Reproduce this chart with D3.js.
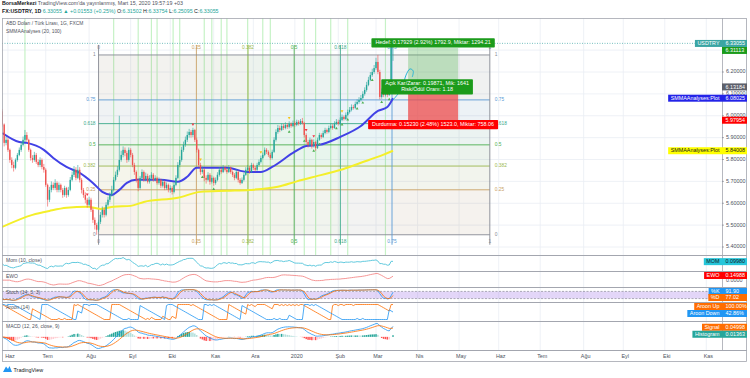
<!DOCTYPE html>
<html><head><meta charset="utf-8">
<script src="https://cdn.jsdelivr.net/npm/d3@7"></script>
<style>
body{margin:0;background:#fff;}
svg{display:block;font-family:"Liberation Sans",Arial,sans-serif;}
</style></head><body>
<svg id="c" width="750" height="378"></svg>
<script>
// ---------------- DATA ----------------
const startDate = "2019-05-29";           // first daily bar (weekdays only)
const firstOpen = 6.020;
const closes = [5.960,5.876,5.890,5.844,5.798,5.775,5.762,5.798,5.821,5.844,
 5.867,5.890,5.912,5.890,5.844,5.807,5.798,5.821,5.789,5.775,
 5.798,5.766,5.753,5.684,5.616,5.661,5.684,5.670,5.693,5.661,
 5.684,5.661,5.638,5.670,5.638,5.661,5.707,5.730,5.753,5.716,
 5.753,5.707,5.661,5.638,5.616,5.593,5.616,5.570,5.524,5.501,
 5.479,5.515,5.547,5.570,5.547,5.593,5.616,5.638,5.661,5.707,
 5.730,5.753,5.798,5.821,5.844,5.830,5.798,5.844,5.821,5.775,
 5.743,5.707,5.670,5.716,5.743,5.707,5.725,5.698,5.716,5.730,
 5.707,5.716,5.693,5.707,5.680,5.698,5.670,5.684,5.661,5.670,
 5.652,5.684,5.716,5.775,5.798,5.844,5.867,5.890,5.912,5.926,
 5.912,5.935,5.890,5.844,5.775,5.743,5.753,5.716,5.707,5.730,
 5.698,5.716,5.693,5.707,5.730,5.753,5.743,5.762,5.753,5.743,
 5.762,5.743,5.730,5.716,5.743,5.707,5.693,5.707,5.730,5.753,
 5.762,5.743,5.775,5.762,5.753,5.775,5.789,5.807,5.821,5.844,
 5.835,5.821,5.807,5.835,5.890,5.926,5.944,5.935,5.953,5.944,
 5.958,5.949,5.963,5.953,5.967,5.958,5.972,5.963,5.976,5.967,
 5.912,5.880,5.867,5.890,5.862,5.880,5.853,5.890,5.912,5.903,
 5.921,5.935,5.926,5.944,5.953,5.944,5.963,5.972,5.963,5.981,
 5.995,5.985,6.004,6.017,6.027,6.040,6.036,6.054,6.063,6.072,
 6.081,6.100,6.118,6.141,6.164,6.186,6.200,6.218,6.246,6.200,
 6.086,6.109,6.095,6.118,6.095,6.127,6.314,6.331];
const highs = [6.030,5.965,5.905,5.900,5.850,5.810,5.790,5.805,5.830,5.855,
 5.880,5.905,5.935,5.925,5.895,5.850,5.820,5.835,5.830,5.800,
 5.810,5.805,5.780,5.760,5.690,5.675,5.700,5.695,5.710,5.700,
 5.695,5.690,5.670,5.680,5.675,5.675,5.720,5.745,5.770,5.765,
 5.775,5.765,5.715,5.670,5.650,5.625,5.630,5.625,5.580,5.535,
 5.510,5.525,5.560,5.585,5.580,5.605,5.630,5.650,5.680,5.720,
 5.745,5.770,6.000,5.840,5.860,5.855,5.840,5.855,5.852,5.830,
 5.785,5.750,5.715,5.725,5.755,5.750,5.740,5.735,5.728,5.742,
 5.738,5.728,5.722,5.718,5.712,5.710,5.705,5.695,5.690,5.682,
 5.678,5.695,5.728,5.788,5.815,5.858,5.882,5.905,5.928,5.940,
 5.935,5.945,5.940,5.900,5.850,5.785,5.768,5.760,5.728,5.742,
 5.738,5.728,5.722,5.718,5.742,5.765,5.762,5.775,5.770,5.760,
 5.775,5.768,5.750,5.738,5.755,5.750,5.715,5.718,5.740,5.765,
 5.775,5.770,5.785,5.782,5.770,5.785,5.800,5.818,5.832,5.855,
 5.852,5.842,5.830,5.845,5.902,5.938,5.958,5.955,5.965,5.962,
 5.970,5.966,5.975,5.970,5.978,5.975,5.982,5.980,5.985,5.990,
 5.972,5.920,5.890,5.900,5.895,5.892,5.885,5.900,5.922,5.920,
 5.932,5.945,5.942,5.955,5.965,5.962,5.975,5.985,5.982,5.992,
 6.006,6.002,6.015,6.028,6.040,6.052,6.050,6.065,6.075,6.085,
 6.095,6.112,6.130,6.155,6.178,6.200,6.215,6.232,6.265,6.278,
 6.210,6.125,6.120,6.130,6.135,6.140,6.320,6.338];
const lows = [5.950,5.860,5.865,5.835,5.785,5.760,5.745,5.755,5.790,5.815,
 5.835,5.860,5.880,5.880,5.835,5.795,5.785,5.790,5.780,5.765,
 5.765,5.755,5.740,5.675,5.585,5.605,5.650,5.660,5.660,5.650,
 5.650,5.650,5.625,5.630,5.625,5.630,5.655,5.700,5.720,5.705,
 5.710,5.695,5.645,5.625,5.600,5.580,5.585,5.560,5.510,5.480,
 5.456,5.470,5.505,5.535,5.535,5.540,5.585,5.605,5.630,5.655,
 5.700,5.720,5.745,5.790,5.810,5.815,5.785,5.790,5.810,5.765,
 5.730,5.695,5.655,5.662,5.705,5.698,5.700,5.690,5.690,5.708,
 5.698,5.700,5.685,5.685,5.670,5.672,5.660,5.662,5.650,5.648,
 5.640,5.645,5.678,5.710,5.765,5.790,5.835,5.858,5.880,5.900,
 5.900,5.902,5.880,5.832,5.765,5.730,5.735,5.700,5.690,5.700,
 5.685,5.690,5.680,5.685,5.700,5.722,5.735,5.738,5.745,5.735,
 5.738,5.735,5.720,5.705,5.710,5.695,5.685,5.688,5.700,5.725,
 5.745,5.735,5.738,5.752,5.745,5.748,5.768,5.782,5.800,5.815,
 5.825,5.812,5.798,5.800,5.830,5.882,5.918,5.925,5.930,5.935,
 5.938,5.940,5.942,5.945,5.948,5.950,5.952,5.955,5.958,5.960,
 5.900,5.870,5.855,5.860,5.850,5.855,5.840,5.848,5.885,5.895,
 5.898,5.915,5.918,5.920,5.938,5.936,5.940,5.958,5.955,5.958,
 5.975,5.978,5.980,5.998,6.010,6.020,6.028,6.030,6.048,6.055,
 6.065,6.075,6.092,6.110,6.135,6.158,6.178,6.192,6.210,6.190,
 6.075,6.078,6.085,6.088,6.085,6.090,6.120,6.251];

// SMMA(20) (blue) and SMMA(100) (yellow) at bar indices
const fastIdx = [0,9,13,22,27,34,41,48,53,58,62,66,71,84,93,98,103,110,119,130,137,143,154,161,168,179,190,199,204,207];
const fastVal = [5.921,5.880,5.876,5.844,5.807,5.766,5.739,5.693,5.652,5.638,5.661,5.693,5.707,5.707,5.698,5.721,5.762,5.762,5.762,5.743,5.743,5.766,5.830,5.862,5.867,5.903,5.953,6.022,6.040,6.080];
const slowIdx = [0,16,25,34,45,52,59,68,75,93,105,119,131,146,156,167,179,190,202,207];
const slowVal = [5.492,5.547,5.565,5.579,5.584,5.574,5.584,5.588,5.606,5.625,5.652,5.657,5.661,5.675,5.700,5.725,5.752,5.785,5.822,5.840];
const projIdx = [207,211.8,213.9,216,217.7,217.2];
const projVal = [6.072,6.127,6.186,6.214,6.205,6.177];

// markers (bar indices)
const upMarks = [106,112,152,160,165,168,177,180,183,188,191,196,201,205];
const downMarks = [45,101,161,165,204];
const yellowMarks = [105,137,152,180];
const greenLines = [12,59,72,79,82,90.5,94,107,111,116,119,130,138,142,160,166,174,183,203];

// price axis
const priceTicks = [5.4,5.5,5.6,5.7,5.8,5.9,6.0,6.1,6.2,6.3];
const monthDates = ["2019-06-03","2019-07-01","2019-08-01","2019-09-02","2019-10-01","2019-11-01","2019-12-02","2020-01-01","2020-02-03","2020-03-02","2020-04-01","2020-05-01","2020-06-01","2020-07-01","2020-08-03","2020-09-01","2020-10-01","2020-11-02"];
const monthNames = ["Haz","Tem","Ağu","Eyl","Eki","Kas","Ara","2020","Şub","Mar","Nis","May","Haz","Tem","Ağu","Eyl","Eki","Kas"];

// Fibonacci (price + time)
const fibLow = 5.456, fibHigh = 6.278;
const fibLevels = [0,0.25,0.382,0.5,0.618,0.75,1];
const fibLabels = ["0","0.25","0.382","0.5","0.618","0.75","1"];
const fibColors = ["#868993","#c9a064","#9bb84e","#4caf50","#3aa98a","#5b9bd5","#868993"];
const timeFibStart = 51, timeFibEnd = 258.3;

// long position tool
const posEntry = 6.13184, posTarget = 6.31113, posStop = 5.97954;
const posStartBar = 215, posEndBar = 241.5;
const posTexts = ["Hedef: 0.17929 (2.92%) 1792.9, Miktar: 1294.21","Açık Kar/Zarar: 0.19871, Mik: 1641","Risk/Ödül Oranı: 1.18","Durdurma: 0.15230 (2.48%) 1523.0, Miktar: 758.06"];

// ---------------- SETUP ----------------
const svg = d3.select("#c");
const n = closes.length;
const opens = closes.map((c,i)=> i===0 ? firstOpen : closes[i-1]);
const PL = 2, PR = 722, AR = 747;
const mainTop = 18, mainBot = 255;
const panes = {
  mom:{top:256,bot:271}, ewo:{top:272,bot:287}, stoch:{top:288,bot:302},
  aroon:{top:303,bot:321}, macd:{top:322,bot:350}
};
const axisBot = 362;
const FS = 5.4;

const x = d3.scaleLinear().domain([0, n-1]).range([2.3, 393]);
const y = d3.scaleLinear().domain([5.4, 6.2]).range([247, 72]);

function weekdaysBetween(a,b){ let k=0; const d=new Date(a); while(d<b){const w=d.getUTCDay(); if(w!==0&&w!==6)k++; d.setUTCDate(d.getUTCDate()+1);} return k;}
const start = new Date(startDate+"T00:00:00Z");
const idxOf = s => weekdaysBetween(start, new Date(s+"T00:00:00Z"));

svg.append("rect").attr("width",750).attr("height",378).attr("fill","#fff");

const defs = svg.append("defs");
defs.append("clipPath").attr("id","cm").append("rect").attr("x",PL).attr("y",mainTop).attr("width",PR-PL).attr("height",mainBot-mainTop);
Object.entries(panes).forEach(([k,p])=>{
  defs.append("clipPath").attr("id","c"+k).append("rect").attr("x",PL).attr("y",p.top).attr("width",PR-PL).attr("height",p.bot-p.top);
});

// ---------------- GRID ----------------
const grid = svg.append("g");
priceTicks.forEach(t=>{
  grid.append("line").attr("x1",PL).attr("x2",PR).attr("y1",y(t)).attr("y2",y(t)).attr("stroke","#eaeef4").attr("stroke-width",0.8);
});
monthDates.forEach(d=>{
  const xx = x(idxOf(d));
  grid.append("line").attr("x1",xx).attr("x2",xx).attr("y1",mainTop).attr("y2",350).attr("stroke","#eaeef4").attr("stroke-width",0.8);
});

// ---------------- MAIN PANE ----------------
const main = svg.append("g").attr("clip-path","url(#cm)");

greenLines.forEach(i=>{
  main.append("line").attr("x1",x(i)).attr("x2",x(i)).attr("y1",mainTop).attr("y2",mainBot)
    .attr("stroke","#c6f2c6").attr("stroke-width",1.2);
});

const fy = lv => y(fibLow + lv*(fibHigh-fibLow));
const tx = lv => x(timeFibStart + lv*(timeFibEnd-timeFibStart));
const fx0 = tx(0), fx1 = tx(1);
for(let k=0;k<fibLevels.length-1;k++){
  main.append("rect").attr("x",fx0).attr("width",fx1-fx0)
    .attr("y",fy(fibLevels[k+1])).attr("height",fy(fibLevels[k])-fy(fibLevels[k+1]))
    .attr("fill",fibColors[k+1]).attr("fill-opacity",0.07);
  main.append("rect").attr("x",tx(fibLevels[k])).attr("width",tx(fibLevels[k+1])-tx(fibLevels[k]))
    .attr("y",fy(1)).attr("height",fy(0)-fy(1))
    .attr("fill",fibColors[k+1]).attr("fill-opacity",0.05);
}
fibLevels.forEach((lv,k)=>{
  main.append("line").attr("x1",fx0).attr("x2",fx1).attr("y1",fy(lv)).attr("y2",fy(lv))
    .attr("stroke",fibColors[k]).attr("stroke-width",0.9);
  main.append("line").attr("x1",tx(lv)).attr("x2",tx(lv)).attr("y1",fy(1)-10).attr("y2",fy(0)+10)
    .attr("stroke",fibColors[k]).attr("stroke-width",0.9);
});

const px0 = x(posStartBar), px1 = x(posEndBar);
main.append("rect").attr("x",px0).attr("width",px1-px0).attr("y",y(posTarget)).attr("height",y(posEntry)-y(posTarget))
  .attr("fill","#5cb85c").attr("fill-opacity",0.35);
main.append("rect").attr("x",px0).attr("width",px1-px0).attr("y",y(posEntry)).attr("height",y(posStop)-y(posEntry))
  .attr("fill","#ec4b4b").attr("fill-opacity",0.75);

main.append("line").attr("x1",PL).attr("x2",PR).attr("y1",y(closes[n-1])).attr("y2",y(closes[n-1]))
  .attr("stroke","#3ba5a3").attr("stroke-width",0.7).attr("stroke-dasharray","1,1.5");

const maLine = d3.line().x(d=>x(d[0])).y(d=>y(d[1])).curve(d3.curveMonotoneX);
main.append("path").attr("d",maLine(slowIdx.map((v,i)=>[v,slowVal[i]]))).attr("fill","none")
  .attr("stroke","#f4ef2a").attr("stroke-width",2);
main.append("path").attr("d",maLine(fastIdx.map((v,i)=>[v,fastVal[i]]))).attr("fill","none")
  .attr("stroke","#4141e6").attr("stroke-width",2);
main.append("path").attr("d",d3.line().x(d=>x(d[0])).y(d=>y(d[1])).curve(d3.curveCatmullRom)(projIdx.map((v,i)=>[v,projVal[i]])))
  .attr("fill","none").attr("stroke","#2ab5d6").attr("stroke-width",1);

const cg = main.append("g");
for(let i=0;i<n;i++){
  const up = closes[i] >= opens[i];
  const col = up ? "#26a69a" : "#ef5350";
  cg.append("line").attr("x1",x(i)).attr("x2",x(i)).attr("y1",y(highs[i])).attr("y2",y(lows[i]))
    .attr("stroke",col).attr("stroke-width",0.6);
  const yt = y(Math.max(opens[i],closes[i])), yb = y(Math.min(opens[i],closes[i]));
  cg.append("rect").attr("x",x(i)-0.7).attr("width",1.4).attr("y",yt).attr("height",Math.max(0.6,yb-yt)).attr("fill",col);
}
const tri = (cx,cy,dir,col)=> main.append("path")
  .attr("d", dir>0 ? `M${cx-1.4},${cy+1.2}L${cx+1.4},${cy+1.2}L${cx},${cy-1.2}Z` : `M${cx-1.4},${cy-1.2}L${cx+1.4},${cy-1.2}L${cx},${cy+1.2}Z`)
  .attr("fill",col);
upMarks.forEach(i=>tri(x(i), y(lows[i])+3, 1, "#4caf50"));
downMarks.forEach(i=>tri(x(i), y(highs[i])-3, -1, "#f23645"));
yellowMarks.forEach(i=>tri(x(i), y(highs[i])-3, -1, "#f5c518"));

const lab = svg.append("g").attr("font-size",4.8);
fibLevels.forEach((lv,k)=>{
  lab.append("text").attr("x",fx0-3).attr("y",fy(lv)).attr("text-anchor","end").attr("dominant-baseline","middle").attr("fill",fibColors[k]).text(fibLabels[k]);
  lab.append("text").attr("x",fx1+5).attr("y",fy(lv)).attr("text-anchor","start").attr("dominant-baseline","middle").attr("fill",fibColors[k]).text(fibLabels[k]);
  lab.append("text").attr("x",tx(lv)).attr("y",fy(1)-7).attr("text-anchor","middle").attr("dominant-baseline","middle").attr("fill",fibColors[k]).text(fibLabels[k]);
  lab.append("text").attr("x",tx(lv)).attr("y",fy(0)+7).attr("text-anchor","middle").attr("dominant-baseline","middle").attr("fill",fibColors[k]).text(fibLabels[k]);
});

const pcx = (px0+px1)/2;
function boxLabel(lines, cx, cy, bg){
  const g = svg.append("g");
  const ts = lines.map((t,k)=> g.append("text").attr("x",cx).attr("y",cy + (k-(lines.length-1)/2)*6.2)
    .attr("text-anchor","middle").attr("dominant-baseline","middle").attr("font-size",FS).attr("fill","#fff").text(t));
  const w = d3.max(ts, t=>t.node().getComputedTextLength()) + 8;
  const h = lines.length*6.2 + 3;
  g.insert("rect","text").attr("x",cx-w/2).attr("y",cy-h/2).attr("width",w).attr("height",h).attr("fill",bg).attr("rx",0.8);
}
boxLabel([posTexts[0]], pcx, y(posTarget)-4.8, "#1b9b1b");
boxLabel([posTexts[1],posTexts[2]], pcx-6, y(posEntry), "#1b9b1b");
boxLabel([posTexts[3]], pcx, y(posStop)+4.4, "#ff0000");

svg.append("text").attr("x",6).attr("y",24.5).attr("font-size",4.9).attr("fill","#50535e").text("ABD Doları / Türk Lirası, 1G, FXCM");
svg.append("text").attr("x",6).attr("y",33).attr("font-size",4.9).attr("fill","#50535e").text("SMMAAnalyses (20, 100)");

// ---------------- INDICATORS ----------------
function sma(arr,len){ return arr.map((_,i)=>{const s=Math.max(0,i-len+1); let t=0; for(let j=s;j<=i;j++) t+=arr[j]; return t/(i-s+1);}); }
function ema(arr,len){ const k=2/(len+1); let e=arr[0]; return arr.map((v,i)=> i===0 ? (e=v) : (e = v*k + e*(1-k))); }
const mom = closes.map((c,i)=> c - closes[Math.max(0,i-10)]);
const s5 = sma(closes,5), s35 = sma(closes,35);
const ewo = closes.map((_,i)=> s5[i]-s35[i]);
const rawK = closes.map((c,i)=>{const s=Math.max(0,i-13); const hh=d3.max(highs.slice(s,i+1)), ll=d3.min(lows.slice(s,i+1)); return hh===ll?50:100*(c-ll)/(hh-ll);});
const stK = sma(rawK,3), stD = sma(stK,3);
const arUp = [], arDn = [];
for(let i=0;i<n;i++){
  const s=Math.max(0,i-14); let hi=s, lo=s;
  for(let j=s;j<=i;j++){ if(highs[j]>=highs[hi]) hi=j; if(lows[j]<=lows[lo]) lo=j; }
  arUp.push(100*(14-(i-hi))/14); arDn.push(100*(14-(i-lo))/14);
}
const e12 = ema(closes,12), e26 = ema(closes,26);
const macd = closes.map((_,i)=> e12[i]-e26[i]);
const sig = ema(macd,9);
const hist = macd.map((m,i)=> m - sig[i]);

function paneY(p, lo, hi, pad){ return d3.scaleLinear().domain([lo,hi]).range([p.bot-pad, p.top+pad]); }
const idxLine = (sc, arr) => d3.line().x((d,i)=>x(i)).y(d=>sc(d))(arr);

const pm = panes.mom, ym = paneY(pm, d3.min(mom), d3.max(mom), 1.5);
svg.append("g").attr("clip-path","url(#cmom)").append("path").attr("d",idxLine(ym,mom)).attr("fill","none").attr("stroke","#4fc3d9").attr("stroke-width",0.9);
const pe = panes.ewo, ye = paneY(pe, d3.min(ewo), d3.max(ewo), 1.5);
svg.append("g").attr("clip-path","url(#cewo)").append("path").attr("d",idxLine(ye,ewo)).attr("fill","none").attr("stroke","#f48a8a").attr("stroke-width",0.9);
const ps = panes.stoch, ys = paneY(ps, 0, 100, 1);
const gs = svg.append("g").attr("clip-path","url(#cstoch)");
gs.append("rect").attr("x",PL).attr("width",PR-PL).attr("y",ys(80)).attr("height",ys(20)-ys(80)).attr("fill","#9b6ae6").attr("fill-opacity",0.28);
[80,20].forEach(v=> gs.append("line").attr("x1",PL).attr("x2",PR).attr("y1",ys(v)).attr("y2",ys(v)).attr("stroke","#787b86").attr("stroke-width",0.6).attr("stroke-dasharray","2,1.5"));
gs.append("path").attr("d",idxLine(ys,stK)).attr("fill","none").attr("stroke","#2196f3").attr("stroke-width",0.8);
gs.append("path").attr("d",idxLine(ys,stD)).attr("fill","none").attr("stroke","#ff6d00").attr("stroke-width",0.8);
const pa = panes.aroon, ya = paneY(pa, 0, 100, 1.5);
const ga = svg.append("g").attr("clip-path","url(#caroon)");
ga.append("path").attr("d",idxLine(ya,arUp)).attr("fill","none").attr("stroke","#ff6d00").attr("stroke-width",0.8);
ga.append("path").attr("d",idxLine(ya,arDn)).attr("fill","none").attr("stroke","#2196f3").attr("stroke-width",0.8);
const pmc = panes.macd;
const mLo = d3.min([d3.min(macd),d3.min(sig),d3.min(hist)]), mHi = d3.max([d3.max(macd),d3.max(sig),d3.max(hist)]);
const yc = paneY(pmc, mLo, mHi, 1.5);
const gc = svg.append("g").attr("clip-path","url(#cmacd)");
hist.forEach((h,i)=>{
  const prev = i>0 ? hist[i-1] : h;
  const col = h>=0 ? (prev < h ? "#26a69a" : "#b2dfdb") : (prev < h ? "#ffcdd2" : "#ff5252");
  gc.append("rect").attr("x",x(i)-0.75).attr("width",1.5).attr("y",Math.min(yc(h),yc(0))).attr("height",Math.abs(yc(h)-yc(0))).attr("fill",col);
});
gc.append("path").attr("d",idxLine(yc,macd)).attr("fill","none").attr("stroke","#2196f3").attr("stroke-width",0.8);
gc.append("path").attr("d",idxLine(yc,sig)).attr("fill","none").attr("stroke","#ff6d00").attr("stroke-width",0.8);

const paneTitles = [["mom","Mom (10, close)"],["ewo","EWO"],["stoch","Stoch (14, 3, 3)"],["aroon","Aroon (14)"],["macd","MACD (12, 26, close, 9)"]];
paneTitles.forEach(([k,t])=>{
  svg.append("text").attr("x",6).attr("y",panes[k].top+5.5).attr("font-size",5).attr("fill","#50535e").text(t);
});

// ---------------- FRAME ----------------
const fr = svg.append("g").attr("stroke","#a3a6af").attr("fill","none");
fr.append("rect").attr("x",PL+0.5).attr("y",mainTop+0.5).attr("width",AR-PL-1).attr("height",axisBot-mainTop-1).attr("stroke-width",0.8);
fr.append("line").attr("x1",PR+0.5).attr("x2",PR+0.5).attr("y1",mainTop).attr("y2",350).attr("stroke-width",0.8);
[255.5,271.5,287.5,302.5,321.5,350.5].forEach(v=> fr.append("line").attr("x1",PL).attr("x2",AR).attr("y1",v).attr("y2",v).attr("stroke-width",1.1));

const ax = svg.append("g").attr("font-size",FS).attr("fill","#4c525e");
priceTicks.forEach(t=>{
  ax.append("line").attr("x1",PR).attr("x2",PR+2).attr("y1",y(t)).attr("y2",y(t)).attr("stroke","#787b86").attr("stroke-width",0.6);
  ax.append("text").attr("x",PR+4).attr("y",y(t)).attr("dominant-baseline","middle").text(d3.format(".5f")(t));
});
ax.append("text").attr("x",PR+4).attr("y",280.5).attr("dominant-baseline","middle").text("0.0000");

monthDates.forEach((d,k)=>{
  const xx = x(idxOf(d));
  if(xx < PR-4) svg.append("text").attr("x",xx+2).attr("y",356.8).attr("text-anchor","middle").attr("dominant-baseline","middle")
    .attr("font-size",FS).attr("fill","#4c525e").text(monthNames[k]);
});

function axisLabels(list, minGap){
  list.sort((a,b)=>a.y-b.y);
  for(let i=1;i<list.length;i++) if(list[i].y-list[i-1].y<minGap) list[i].y=list[i-1].y+minGap;
  list.forEach(l=>{
    const g = svg.append("g");
    g.append("rect").attr("x",PR).attr("y",l.y-3.5).attr("width",AR-PR).attr("height",7).attr("fill",l.bg);
    g.append("text").attr("x",PR+3.5).attr("y",l.y+0.2).attr("dominant-baseline","middle").attr("font-size",FS).attr("fill",l.fg).text(l.text);
    if(l.tag){
      const t = g.append("text").attr("x",PR-2.5).attr("y",l.y+0.2).attr("text-anchor","end").attr("dominant-baseline","middle").attr("font-size",FS).attr("fill",l.fg).text(l.tag);
      const w = t.node().getComputedTextLength()+5;
      g.insert("rect","text").attr("x",PR-w).attr("y",l.y-3.5).attr("width",w).attr("height",7).attr("fill",l.bg);
    }
  });
}
axisLabels([
  {y:y(6.33055), text:"6.33055", bg:"#3ba5a3", fg:"#fff", tag:"USDTRY"},
  {y:y(posTarget), text:"6.31113", bg:"#1b9b1b", fg:"#fff"},
  {y:y(posEntry), text:"6.13184", bg:"#5d606b", fg:"#fff"},
  {y:y(6.08025), text:"6.08025", bg:"#2323e8", fg:"#fff", tag:"SMMAAnalyses:Plot"},
  {y:y(posStop), text:"5.97954", bg:"#ff0000", fg:"#fff"},
  {y:y(5.84008), text:"5.84008", bg:"#ffff00", fg:"#131722", tag:"SMMAAnalyses:Plot"}
], 7);
const clampY = (p,v)=> Math.max(p.top+3.5, Math.min(p.bot-3.5, v));
axisLabels([{y:clampY(pm,ym(0.09980)), text:"0.09980", bg:"#26c6da", fg:"#131722", tag:"MOM"}],7);
axisLabels([{y:clampY(pe,ye(0.14988)), text:"0.14988", bg:"#ff0000", fg:"#fff", tag:"EWO"}],7);
axisLabels([{y:clampY(ps,ys(91.90)), text:"91.90", bg:"#2196f3", fg:"#fff", tag:"%K"},
            {y:clampY(ps,ys(77.02)), text:"77.02", bg:"#ff6d00", fg:"#fff", tag:"%D"}],6);
axisLabels([{y:clampY(pa,ya(100)), text:"100.00%", bg:"#ff6d00", fg:"#fff", tag:"Aroon Up"},
            {y:clampY(pa,ya(42.86)), text:"42.86%", bg:"#2196f3", fg:"#fff", tag:"Aroon Down"}],7);
axisLabels([{y:clampY(pmc,yc(0.04998)), text:"0.04998", bg:"#ff6d00", fg:"#fff", tag:"Signal"},
            {y:clampY(pmc,yc(0.01363)), text:"0.01363", bg:"#26a69a", fg:"#fff", tag:"Histogram"}],7);

// ---------------- HEADER ----------------
const h1 = svg.append("text").attr("x",2).attr("y",5).attr("font-size",5.3).attr("fill","#50535e");
h1.append("tspan").attr("font-weight","bold").attr("fill","#131722").text("BorsaMerkezi");
h1.append("tspan").text(" TradingView.com'da yayınlanmış, Mart 15, 2020 19:57:19 +03");
const h2 = svg.append("text").attr("x",2).attr("y",13).attr("font-size",5.3).attr("fill","#131722");
h2.append("tspan").attr("font-weight","bold").text("FX:USDTRY, 1D ");
h2.append("tspan").attr("fill","#26a69a").text("6.33055 ▲ +0.01553 (+0.25%) ");
[["O:","6.31502"],["H:","6.33754"],["L:","6.25095"],["C:","6.33055"]].forEach(([a,b])=>{
  h2.append("tspan").text(a); h2.append("tspan").attr("fill","#26a69a").text(b+" ");
});

const lg = svg.append("g");
lg.append("path").attr("d","M3,372 L6,366.5 L8,369 L9.5,366 L12,372 Z").attr("fill","#2196f3");
lg.append("text").attr("x",13.5).attr("y",371.5).attr("font-size",5.4).attr("fill","#131722").text("TradingView");
</script></body></html>
